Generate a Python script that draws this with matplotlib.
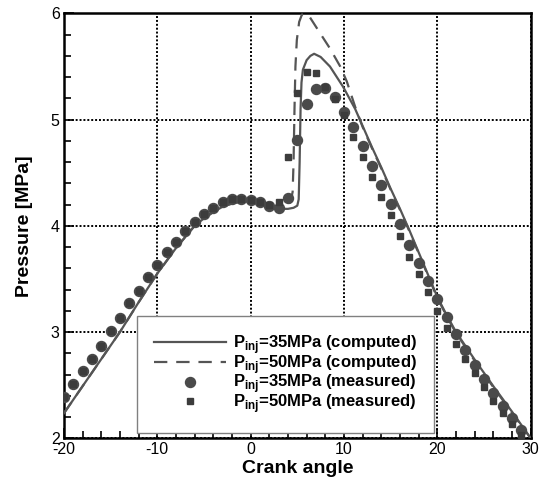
import numpy as np
import matplotlib
matplotlib.use("Agg")
import matplotlib.pyplot as plt

plt.rcParams['font.family'] = ['Liberation Sans', 'DejaVu Sans']
plt.rcParams['mathtext.fontset'] = 'custom'
plt.rcParams['mathtext.rm'] = 'Liberation Sans:bold'
plt.rcParams['mathtext.bf'] = 'Liberation Sans:bold'
plt.rcParams['axes.unicode_minus'] = False

# measured points (integer crank angles)
angle_meas = list(range(-20, 30))
p35_meas = [2.39, 2.51, 2.63, 2.75, 2.87, 3.01, 3.13, 3.27, 3.39, 3.52,
            3.63, 3.75, 3.85, 3.95, 4.04, 4.11, 4.17, 4.22, 4.25, 4.25,
            4.24, 4.22, 4.19, 4.17, 4.26, 4.81, 5.15, 5.29, 5.30, 5.21,
            5.07, 4.93, 4.75, 4.56, 4.38, 4.21, 4.02, 3.82, 3.65, 3.48,
            3.31, 3.14, 2.98, 2.83, 2.69, 2.56, 2.43, 2.30, 2.19, 2.08]
p50_meas = [2.39, 2.51, 2.63, 2.75, 2.87, 3.01, 3.13, 3.27, 3.39, 3.52,
            3.63, 3.75, 3.85, 3.95, 4.04, 4.11, 4.17, 4.22, 4.25, 4.25,
            4.24, 4.22, 4.20, 4.22, 4.65, 5.25, 5.45, 5.44, 5.31, 5.19,
            5.04, 4.84, 4.65, 4.46, 4.27, 4.10, 3.90, 3.71, 3.55, 3.38,
            3.20, 3.04, 2.89, 2.75, 2.61, 2.48, 2.35, 2.24, 2.13, 2.03]

# computed curves
angle_35 = [-20, -18, -16, -14, -12, -10, -8, -6, -5, -4, -3, -2, -1, 0, 1, 2, 3, 4,
            4.6, 5.0, 5.15, 5.25, 5.35, 5.45, 5.6, 6.0, 6.4, 6.8, 7.5, 8.5, 9.9,
            11.2, 12, 13, 14, 15, 16, 17, 18, 19, 20, 21, 22, 24, 26, 28, 30]
p35_comp = [2.235, 2.49, 2.745, 3.0, 3.28, 3.55, 3.79, 4.0, 4.07, 4.13, 4.18, 4.21,
            4.23, 4.23, 4.21, 4.18, 4.16, 4.16, 4.17, 4.19, 4.25, 4.6, 5.1, 5.35,
            5.47, 5.56, 5.6, 5.62, 5.59, 5.5, 5.31, 5.1, 4.94, 4.74, 4.55, 4.35,
            4.16, 3.96, 3.75, 3.54, 3.33, 3.16, 3.0, 2.74, 2.49, 2.25, 2.0]
angle_50 = [-20, -18, -16, -14, -12, -10, -8, -6, -5, -4, -3, -2, -1, 0, 1, 2, 3,
            3.5, 4.0, 4.3, 4.5, 4.6, 4.7, 4.8, 4.95, 5.2, 5.5, 5.8, 6.3, 7.25, 8.5,
            9.6, 10.3, 11.2, 12, 13, 14, 15, 16, 17, 18, 19, 20, 21, 22, 24, 26, 28, 30]
p50_comp = [2.235, 2.49, 2.745, 3.0, 3.28, 3.55, 3.79, 4.0, 4.07, 4.13, 4.18, 4.21,
            4.23, 4.23, 4.21, 4.18, 4.16, 4.165, 4.19, 4.23, 4.32, 4.6, 5.1, 5.5,
            5.75, 5.92, 5.99, 6.0, 5.97, 5.84, 5.67, 5.5, 5.36, 5.12, 4.93, 4.73,
            4.54, 4.34, 4.15, 3.95, 3.74, 3.53, 3.32, 3.15, 2.99, 2.73, 2.48, 2.24, 2.0]

labels = ['P$_{\\mathrm{inj}}$=35MPa (computed)',
          'P$_{\\mathrm{inj}}$=50MPa (computed)',
          'P$_{\\mathrm{inj}}$=35MPa (measured)',
          'P$_{\\mathrm{inj}}$=50MPa (measured)']

grey = '#4a4a4a'

fig = plt.figure(figsize=(5.46, 4.79), dpi=100)
ax = fig.add_axes([0.117, 0.085, 0.855, 0.887])

ax.plot(angle_35, p35_comp, '-', color='#555555', lw=1.6, label=labels[0], zorder=3)
ax.plot(angle_50, p50_comp, '--', color='#555555', lw=1.6, dashes=(6, 4), label=labels[1], zorder=3)
ax.plot(angle_meas, p35_meas, 'o', color=grey, ms=7.2, mec=grey, lw=0, label=labels[2], zorder=4)
ax.plot(angle_meas, p50_meas, 's', color='#3c3c3c', ms=4.5, mec='#3c3c3c', lw=0, label=labels[3], zorder=5)

ax.set_xlim(-20, 30)
ax.set_ylim(2, 6)
ax.set_xticks([-20, -10, 0, 10, 20, 30])
ax.set_yticks([2, 3, 4, 5, 6])
ax.set_xticks(np.arange(-20, 31, 2), minor=True)
ax.set_yticks(np.arange(2, 6.01, 0.2), minor=True)
ax.tick_params(which='both', direction='in', top=False, right=False, labelsize=11.5, width=1.2)
ax.tick_params(which='major', length=7, pad=3)
ax.tick_params(which='minor', length=5)
ax.grid(True, which='major', color='black', linestyle=(0, (1, 1)), lw=1.4)
for sp in ax.spines.values():
    sp.set_linewidth(1.8)

ax.set_xlabel('Crank angle', fontsize=14, fontweight='bold', labelpad=2)
ax.set_ylabel('Pressure [MPa]', fontsize=14, fontweight='bold', labelpad=13)

leg = ax.legend(loc='upper left', bbox_to_anchor=(0.156, 0.288),
                prop={'weight': 'bold', 'size': 12}, handlelength=4.3, handletextpad=0.4,
                labelspacing=-0.2, borderpad=1.05, borderaxespad=0,
                fancybox=False, framealpha=1)
leg.get_frame().set_edgecolor('#808080')
leg.get_frame().set_linewidth(1.0)

fig.savefig('out.png', dpi=100)
